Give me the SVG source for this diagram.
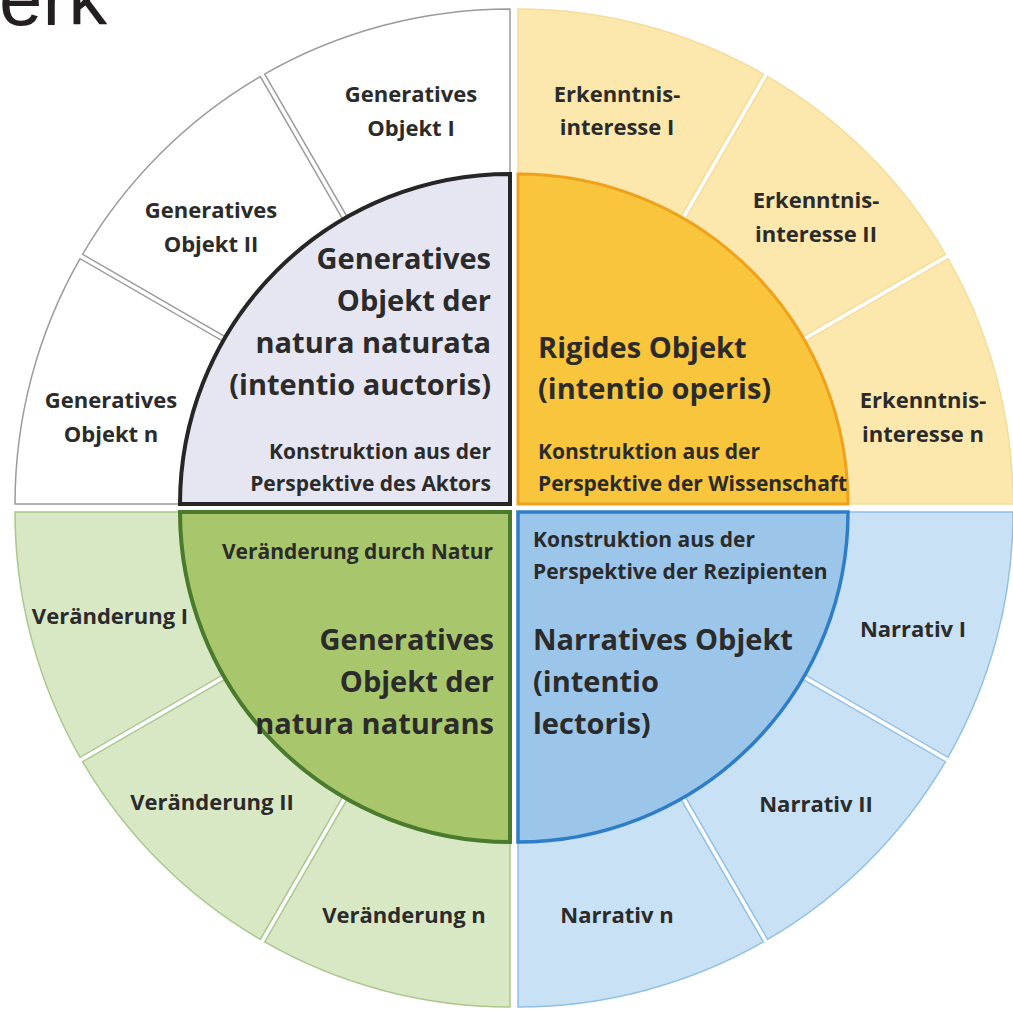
<svg xmlns="http://www.w3.org/2000/svg" xmlns:xlink="http://www.w3.org/1999/xlink" width="1013" height="1010" viewBox="0 0 1013 1010">
  <style>
    text { font-family: "Open Sans", "Liberation Sans", sans-serif; font-weight: bold; fill: #2b2b2b; }
    .big { font-size: 29px; }
    .small { font-size: 21px; }
    .lbl { font-size: 22px; text-anchor: middle; }
    .end { text-anchor: end; }
    .title { font-family: "Liberation Sans", Arial, sans-serif; font-weight: normal; font-size: 78px; fill: #231f20; }
    .ring-tl { fill: #ffffff; stroke: #9a9a9a; stroke-width: 1.5; }
    .core-tl { fill: #e6e6f2; stroke: #262626; stroke-width: 4; }
    .ring-tr { fill: #fce7ad; stroke: #f6dc98; stroke-width: 1.5; }
    .core-tr { fill: #f8c53c; stroke: #f0a11c; stroke-width: 3; }
    .ring-bl { fill: #d8e8c5; stroke: #aac78c; stroke-width: 1.5; }
    .core-bl { fill: #a8c66c; stroke: #4a7a2c; stroke-width: 4; }
    .ring-br { fill: #c9e1f5; stroke: #8fc0e8; stroke-width: 1.5; }
    .core-br { fill: #9cc5ea; stroke: #2e7dc9; stroke-width: 3.5; }
  </style>
  <defs>
    <!-- quarter-wheel pieces in local coordinates (corner at 0,0, opening toward +x/+y);
         ring split at 30° and 60° with a 5px gap -->
    <path id="segA" d="M330,0 L495,0 A495,495 0 0 1 429.93,245.34 L287.04,162.84 A330,330 0 0 0 330,0 Z"/>
    <path id="segB" d="M284.54,167.17 L427.43,249.67 A495,495 0 0 1 249.67,427.43 L167.17,284.54 A330,330 0 0 0 284.54,167.17 Z"/>
    <path id="segC" d="M162.84,287.04 L245.34,429.93 A495,495 0 0 1 0,495 L0,330 A330,330 0 0 0 162.84,287.04 Z"/>
    <path id="core" d="M0,0 L330,0 A330,330 0 0 1 0,330 Z"/>
  </defs>

  <text class="title" x="-1" y="25">erk</text>

  <!-- top-left quadrant: generative object (natura naturata) -->
  <g id="tl-objekt-1">
    <use href="#segC" xlink:href="#segC" class="ring-tl" transform="translate(510 504) scale(-1 -1)"/>
    <text class="lbl"><tspan x="411" y="102">Generatives</tspan><tspan x="411" y="136">Objekt I</tspan></text>
  </g>
  <g id="tl-objekt-2">
    <use href="#segB" xlink:href="#segB" class="ring-tl" transform="translate(510 504) scale(-1 -1)"/>
    <text class="lbl"><tspan x="211" y="218">Generatives</tspan><tspan x="211" y="252">Objekt II</tspan></text>
  </g>
  <g id="tl-objekt-n">
    <use href="#segA" xlink:href="#segA" class="ring-tl" transform="translate(510 504) scale(-1 -1)"/>
    <text class="lbl"><tspan x="111" y="408">Generatives</tspan><tspan x="111" y="442">Objekt n</tspan></text>
  </g>
  <g id="tl-core">
    <use href="#core" xlink:href="#core" class="core-tl" transform="translate(510 504) scale(-1 -1)"/>
    <text class="big end"><tspan x="491" y="269">Generatives</tspan><tspan x="491" y="311">Objekt der</tspan><tspan x="491" y="353">natura naturata</tspan><tspan x="491" y="395">(intentio auctoris)</tspan></text>
    <text class="small end"><tspan x="491" y="459">Konstruktion aus der</tspan><tspan x="491" y="491">Perspektive des Aktors</tspan></text>
  </g>

  <!-- top-right quadrant: rigid object -->
  <g id="tr-interesse-1">
    <use href="#segC" xlink:href="#segC" class="ring-tr" transform="translate(518 504) scale(1 -1)"/>
    <text class="lbl"><tspan x="617" y="102">Erkenntnis-</tspan><tspan x="617" y="135">interesse I</tspan></text>
  </g>
  <g id="tr-interesse-2">
    <use href="#segB" xlink:href="#segB" class="ring-tr" transform="translate(518 504) scale(1 -1)"/>
    <text class="lbl"><tspan x="816" y="208">Erkenntnis-</tspan><tspan x="816" y="242">interesse II</tspan></text>
  </g>
  <g id="tr-interesse-n">
    <use href="#segA" xlink:href="#segA" class="ring-tr" transform="translate(518 504) scale(1 -1)"/>
    <text class="lbl"><tspan x="923" y="408">Erkenntnis-</tspan><tspan x="923" y="442">interesse n</tspan></text>
  </g>
  <g id="tr-core">
    <use href="#core" xlink:href="#core" class="core-tr" transform="translate(518 504) scale(1 -1)"/>
    <text class="big"><tspan x="538" y="358">Rigides Objekt</tspan><tspan x="538" y="399">(intentio operis)</tspan></text>
    <text class="small"><tspan x="538" y="459">Konstruktion aus der</tspan><tspan x="538" y="491">Perspektive der Wissenschaft</tspan></text>
  </g>

  <!-- bottom-left quadrant: generative object (natura naturans) -->
  <g id="bl-veraenderung-1">
    <use href="#segA" xlink:href="#segA" class="ring-bl" transform="translate(510 512) scale(-1 1)"/>
    <text class="lbl" x="110" y="624">Veränderung I</text>
  </g>
  <g id="bl-veraenderung-2">
    <use href="#segB" xlink:href="#segB" class="ring-bl" transform="translate(510 512) scale(-1 1)"/>
    <text class="lbl" x="212" y="810">Veränderung II</text>
  </g>
  <g id="bl-veraenderung-n">
    <use href="#segC" xlink:href="#segC" class="ring-bl" transform="translate(510 512) scale(-1 1)"/>
    <text class="lbl" x="404" y="923">Veränderung n</text>
  </g>
  <g id="bl-core">
    <use href="#core" xlink:href="#core" class="core-bl" transform="translate(510 512) scale(-1 1)"/>
    <text class="small end" x="493" y="559">Veränderung durch Natur</text>
    <text class="big end"><tspan x="494" y="650">Generatives</tspan><tspan x="494" y="692">Objekt der</tspan><tspan x="494" y="734">natura naturans</tspan></text>
  </g>

  <!-- bottom-right quadrant: narrative object -->
  <g id="br-narrativ-1">
    <use href="#segA" xlink:href="#segA" class="ring-br" transform="translate(518 512)"/>
    <text class="lbl" x="913" y="637">Narrativ I</text>
  </g>
  <g id="br-narrativ-2">
    <use href="#segB" xlink:href="#segB" class="ring-br" transform="translate(518 512)"/>
    <text class="lbl" x="816" y="812">Narrativ II</text>
  </g>
  <g id="br-narrativ-n">
    <use href="#segC" xlink:href="#segC" class="ring-br" transform="translate(518 512)"/>
    <text class="lbl" x="617" y="923">Narrativ n</text>
  </g>
  <g id="br-core">
    <use href="#core" xlink:href="#core" class="core-br" transform="translate(518 512)"/>
    <text class="small"><tspan x="533" y="547">Konstruktion aus der</tspan><tspan x="533" y="579">Perspektive der Rezipienten</tspan></text>
    <text class="big"><tspan x="533" y="650">Narratives Objekt</tspan><tspan x="533" y="692">(intentio</tspan><tspan x="533" y="734">lectoris)</tspan></text>
  </g>
</svg>
